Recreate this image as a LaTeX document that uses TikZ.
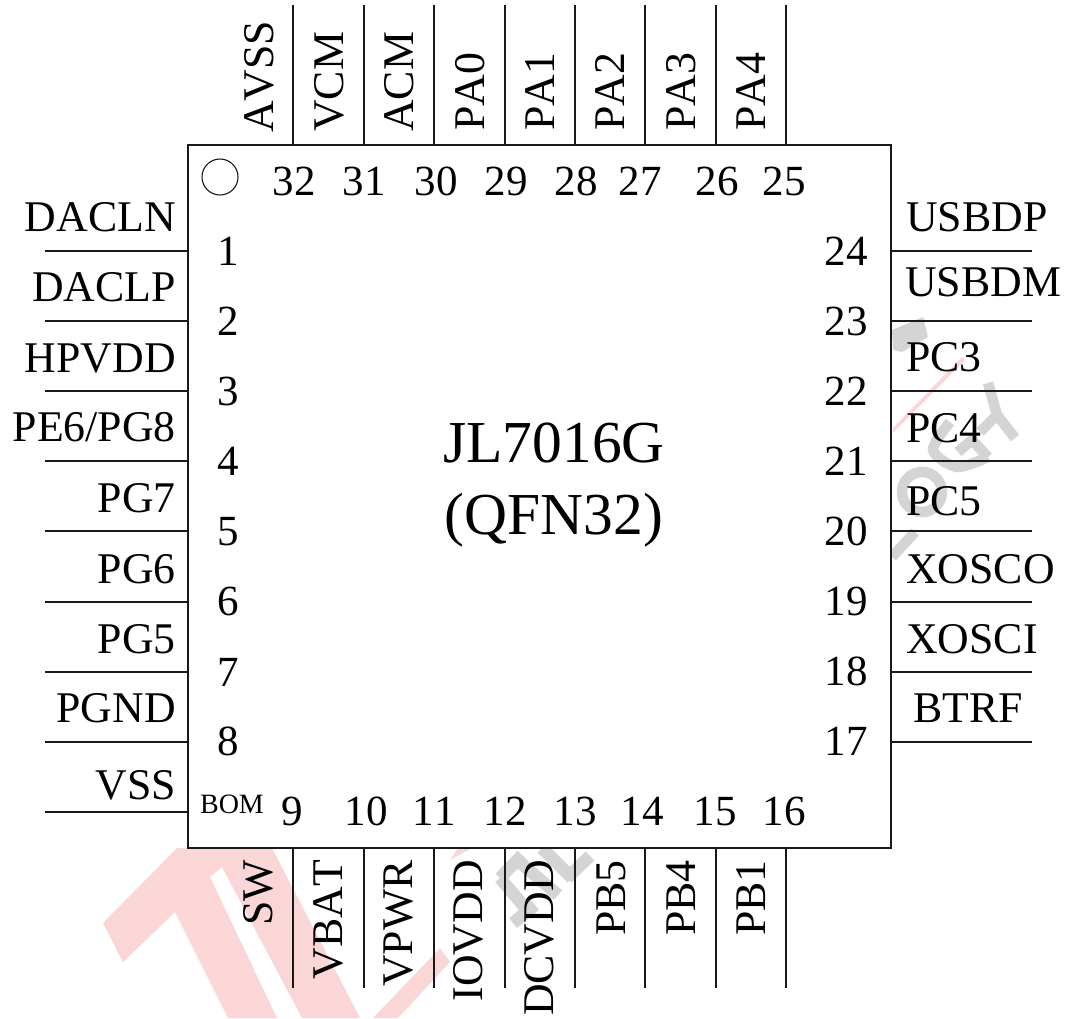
\documentclass[tikz,border=0pt]{standalone}
\usepackage{fontspec}
\setmainfont[Kerning=Off]{Liberation Serif}
\definecolor{wmred}{HTML}{FBD6D6}
\definecolor{wmgray}{HTML}{D4D4D4}
\tikzset{
  pinlead/.style={line width=1.6pt,black!90},
  pintext/.style={inner sep=0pt,font=\fontsize{43.8}{50}\selectfont},
  numtext/.style={inner sep=0pt,anchor=base,font=\fontsize{43}{50}\selectfont},
  wm/.style={line width=10.5pt,wmgray,line cap=butt},
  wmb/.style={line width=12.5pt,wmgray,line cap=butt}
}
\begin{document}
\begin{tikzpicture}[x=1pt,y=-1pt]
\useasboundingbox (0,0) rectangle (1067,1018);
\fill[white] (0,0) rectangle (1067,1018);
% watermark
\fill[wmred] (103,923)--(177,848)--(272,848)--(360,1018)--(302,1018)--(222,867)--(210,877)--(277,1018)--(228,1018)--(175,912)--(123,962)--cycle;
\fill[wmred] (440,948)--(450,962)--(398,1018)--(373,1018)--cycle;
\fill[wmred] (450,860)--(472,848)--(458,848)--cycle;
\fill[wmred] (893,428)--(962,357)--(965,360)--(893,433)--cycle;
\fill[wmgray] (892,330)--(923,317)--(928,337)--(902,352)--(893,350)--cycle;
\draw[wm] (988,383)--(997,415)--(1015,438);
\draw[wm] (997,415)--(980,432);
\draw[wm] plot[smooth] coordinates {(950,422) (933,450) (957,467) (988,457)};
\draw[wm] (988,457)--(972,440)--(958,452);
\draw[wm] (922,492) circle[radius=20];
\draw[wm] (915,532)--(892,557);
\draw[wmb] (500,878)--(522,855);
\draw[wmb] (515,858)--(558,895);
\draw[wmb] (500,878)--(528,911);
\draw[wmb] (513,923)--(535,905);
\draw[wmb] (542,848)--(572,878);
\draw[wmb] (567,878)--(590,856);
% chip
\node[draw=black!90,line width=1.8pt,fill=white,minimum width=703pt,minimum height=703pt,inner sep=0pt] (chip) at (539.5,496.5) {};
\draw[line width=1.1pt,black!90] (220,177) circle[radius=18];
\node[inner sep=0pt,anchor=base,font=\fontsize{59.5}{66}\selectfont] (nm1) at (554,462.5) {JL7016G};
\node[inner sep=0pt,anchor=base,font=\fontsize{59.5}{66}\selectfont] (nm2) at (554,534) {(QFN32)};
\node[inner sep=0pt,anchor=base,font=\fontsize{28}{32}\selectfont] (bom) at (232,813) {BOM};
% left leads
\foreach \y [count=\i] in {251,321,391,461,531,602,672,742,812}{
  \coordinate (L\i) at (45,\y);
  \draw[pinlead] (L\i) -- (L\i -| chip.west);
}
% right leads
\foreach \y [count=\i] in {251,321,391,461,531,602,672,742}{
  \coordinate (R\i) at (1032,\y);
  \draw[pinlead] (R\i) -- (R\i -| chip.east);
}
% top and bottom leads
\foreach \x [count=\i] in {293,364,434,505,575,645,716,786}{
  \coordinate (T\i) at (\x,5);
  \draw[pinlead] (T\i) -- (T\i |- chip.north);
  \coordinate (B\i) at (\x,988);
  \draw[pinlead] (B\i) -- (B\i |- chip.south);
}
% left labels
\foreach \t/\y/\i in {DACLN/231/a,DACLP/301/b,HPVDD/372/c,PE6\slash PG8/441/d,PG7/512/e,PG6/583/f,PG5/653/g,PGND/722/h,VSS/799/j}{
  \node[pintext,anchor=base east] (ll\i) at (176,\y) {\t};
}
% right labels
\foreach \t/\x/\y/\i in {USBDP/906/231/a,USBDM/905/296/b,PC3/906/371/c,PC4/906/442/d,PC5/906/515/e,XOSCO/906/583/f,XOSCI/906/653/g,BTRF/913/722/h}{
  \node[pintext,anchor=base west] (rl\i) at (\x,\y) {\t};
}
% top labels
\foreach \t/\x/\y/\i in {AVSS/273/133/a,VCM/343/132/b,ACM/413/132/c,PA0/484/131/d,PA1/554/131/e,PA2/624/131/f,PA3/695/131/g,PA4/765/131/h}{
  \node[pintext,rotate=90,anchor=base west] (tl\i) at (\x,\y) {\t};
}
% bottom labels
\foreach \t/\x/\i in {SW/272/a,VBAT/342/b,VPWR/412/c,IOVDD/482/d,DCVDD/553/e,PB5/625/f,PB4/695/g,PB1/765/h}{
  \node[pintext,rotate=90,anchor=base east] (bl\i) at (\x,860) {\t};
}
% numbers
\foreach \t/\y in {1/265,2/335,3/405,4/475,5/545,6/615,7/686,8/755}{
  \node[numtext] (n\t) at (228,\y) {\t};
}
\foreach \t/\y in {24/265,23/335,22/405,21/475,20/545,19/615,18/685,17/755}{
  \node[numtext] (n\t) at (846,\y) {\t};
}
\foreach \t/\x in {32/294,31/364,30/436,29/506,28/576,27/640,26/717,25/784}{
  \node[numtext] (n\t) at (\x,195) {\t};
}
\foreach \t/\x in {9/292,10/366,11/434,12/505,13/575,14/642,15/715,16/784}{
  \node[numtext] (n\t) at (\x,825) {\t};
}
\end{tikzpicture}
\end{document}
